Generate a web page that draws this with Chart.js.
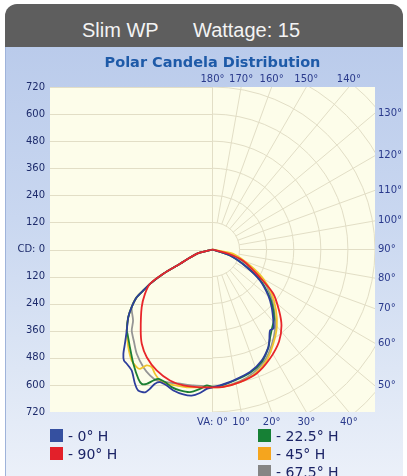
<!DOCTYPE html>
<html><head><meta charset="utf-8">
<script src="https://cdn.jsdelivr.net/npm/chart.js@4.4.0/dist/chart.umd.min.js"></script>
<style>
html,body{margin:0;padding:0;width:407px;height:476px;overflow:hidden;background:#fff;}
#header{position:absolute;left:5px;top:4px;width:398px;height:43px;background:#5e5e5e;border-radius:12px 12px 0 0;}
#panel{position:absolute;left:5px;top:47px;width:398px;height:429px;border-left:1px solid #9fb3da;box-sizing:border-box;
 background:linear-gradient(to bottom,#bacbeb 0%,#c9d7f0 40%,#dde6f5 75%,#ebf0f9 100%);}
.htext{position:absolute;top:20px;font:20px "Liberation Sans",Arial,sans-serif;line-height:20px;color:#f3f3f3;white-space:nowrap;}
#chartwrap{position:absolute;left:0;top:0;width:407px;height:476px;}
.leg{position:absolute;font:14px "DejaVu Sans",sans-serif;line-height:14px;color:#1c2466;white-space:nowrap;}
.sw{position:absolute;width:13px;height:13px;}
</style></head>
<body>
<div id="header"></div>
<div class="htext" style="left:82px">Slim WP</div>
<div class="htext" style="left:193px">Wattage: 15</div>
<div id="panel"></div>
<div id="chartwrap"><canvas id="c" width="407" height="476"></canvas></div>
<div id="legend"></div>
<script>
// ---- data (vertical angle in degrees: 0 = straight down, negative = left half; candela) ----
const seriesLabels = ['- 90° H', '- 0° H', '- 22.5° H', '- 45° H', '- 67.5° H'];
const lineColors   = ['#e8262b', '#2d3e9c', '#1c7f34', '#f0c52c', '#959595'];
const swatchColors = ['#e3202a', '#3550a0', '#168035', '#f5a51e', '#858585'];

const commonAngles = [-76, -74.8, -66.2, -63.7, -61.2, -59.4, -57.8, -54.5, -51.2, -46.6];
const commonCd     = [0, 73, 157, 243, 316, 356, 397, 440, 479, 523];

const h90Angles = [-76, -74.8, -66.2, -63.7, -61.2, -56.7, -50.8, -41.6, -36.9, -31.4, -24.8, -18, -12.1, -5.2, 0, 4.5, 11.7, 19.6, 27.8, 35.9, 42.2, 47.5, 54.1, 59.5, 69.5, 75.5, 77];
const h90Cd     = [0, 73, 157, 243, 316, 358, 405, 479, 522, 559, 590, 610, 616, 613, 611, 611, 600, 583, 546, 503, 455, 400, 332, 244, 146, 71, 0];

const h0Angles = [-42.9, -40.5, -38.6, -36.9, -33.7, -30, -27.8, -25.3, -24.2, -23.2, -21.6, -18.6, -15.5, -11.4, -8.1, -5, -2.4, 0, 3.2, 9, 17, 23.9, 29.7, 32, 35.4, 37.7, 40.6, 45.7, 50.5, 56.9, 62.6, 71.1, 76];
const h0Cd     = [570, 608, 629, 633, 645, 687, 706, 700, 677, 647, 632, 636, 648, 655, 654, 638, 618, 611, 603, 588, 568, 538, 499, 475, 440, 442, 414, 366, 320, 251, 171, 82, 0];

const h22Angles = [-45.3, -40.2, -34.7, -29.8, -27.8, -26.1, -24.3, -22.7, -19.7, -16.5, -13, -9, -5.1, -2.4, 0, 3.1, 9, 17, 23.8, 29.7, 33.2, 37, 41.7, 46.5, 50.8, 57, 62.8, 70.6, 76];
const h22Cd     = [530, 567, 616, 661, 673, 663, 637, 621, 624, 636, 641, 640, 620, 603, 608, 605, 590, 571, 543, 500, 466, 438, 410, 367, 323, 256, 174, 87, 0];

const h45Angles = [-40.8, -36.1, -32.8, -31.3, -29.6, -27.3, -24.8, -21.8, -18.8, -14.7, -10.6, -5.2, 0, 4.5, 11.7, 18.9, 26, 32.8, 39.6, 46.2, 53.2, 60, 66.9, 78.3, 80];
const h45Cd     = [571, 608, 620, 619, 591, 587, 607, 625, 629, 623, 621, 613, 611, 610, 600, 582, 547, 497, 447, 390, 328, 260, 181, 94, 0];

const h67Angles = [-48.2, -44.9, -40.5, -36, -30.4, -26.4, -23.1, -19, -13.6, -8, -2.4, 0, 4.5, 11.7, 18, 25, 31.5, 38, 45, 52, 59, 65.5, 75, 78];
const h67Cd     = [472, 507, 536, 571, 605, 623, 631, 622, 612, 608, 606, 608, 609, 596, 577, 545, 500, 450, 388, 326, 258, 178, 90, 0];

const cdTicks = [-720, -600, -480, -360, -240, -120, 0, 120, 240, 360, 480, 600, 720];
const ringValues = [120, 240, 360, 480, 600, 720, 840, 960];
const spokeAngles = [0, 10, 20, 30, 40, 50, 60, 70, 80, 90, 100, 110, 120, 130, 140, 150, 160, 170, 180];
const topAngles = [180, 170, 160, 150, 140];
const topLabels = ['180°', '170°', '160°', '150°', '140°'];
const rightAngles = [130, 120, 110, 100, 90, 80, 70, 60, 50];
const rightLabels = ['130°', '120°', '110°', '100°', '90°', '80°', '70°', '60°', '50°'];
const bottomAngles = [0, 10, 20, 30, 40];
const bottomLabels = ['VA: 0°', '10°', '20°', '30°', '40°'];

// ---- build ----
const D = Math.PI / 180;
const MAXCD = 720;
function toXY(angles, cds) {
  return angles.map((a, i) => ({x: cds[i] * Math.sin(a * D), y: -cds[i] * Math.cos(a * D)}));
}
const seriesData = [
  toXY(h90Angles, h90Cd),
  toXY(commonAngles.concat(h0Angles), commonCd.concat(h0Cd)),
  toXY(commonAngles.concat(h22Angles), commonCd.concat(h22Cd)),
  toXY(commonAngles.concat(h45Angles), commonCd.concat(h45Cd)),
  toXY(commonAngles.slice(0, 8).concat(h67Angles), commonCd.slice(0, 8).concat(h67Cd))
];

const gridColor = '#e2dec6';
const tickFont = {family: 'DejaVu Sans', size: 10};
const leftTickColor = '#1d2b6b';
const angTickColor = '#2a3a8c';

const polarGrid = {
  id: 'polarGrid',
  beforeDatasetsDraw(chart) {
    const {ctx, chartArea: a, scales: {x, y}} = chart;
    const cx = x.getPixelForValue(0), cy = y.getPixelForValue(0);
    const k = (x.getPixelForValue(MAXCD) - cx) / MAXCD;
    ctx.save();
    ctx.fillStyle = '#fdfdea';
    ctx.fillRect(a.left, a.top, a.width, a.height);
    ctx.beginPath(); ctx.rect(a.left, a.top, a.width, a.height); ctx.clip();
    ctx.strokeStyle = gridColor; ctx.lineWidth = 1;
    ctx.beginPath();
    cdTicks.forEach(v => {
      const py = Math.round(y.getPixelForValue(v)) + 0.5;
      ctx.moveTo(a.left, py); ctx.lineTo(cx, py);
    });
    ctx.moveTo(cx, a.top); ctx.lineTo(cx, a.bottom);
    ctx.stroke();
    ringValues.forEach(r => {
      ctx.beginPath();
      ctx.arc(cx, cy, r * k, -Math.PI / 2, Math.PI / 2);
      ctx.stroke();
    });
    ctx.beginPath();
    spokeAngles.forEach(t => {
      const dx = Math.sin(t * D), dy = Math.cos(t * D);
      const r0 = ringValues[0] * k, r1 = 1200 * k;
      ctx.moveTo(cx + dx * r0, cy + dy * r0);
      ctx.lineTo(cx + dx * r1, cy + dy * r1);
    });
    ctx.stroke();
    ctx.restore();
  }
};

const common = {type: 'linear', min: -MAXCD, max: MAXCD, grid: {display: false, drawTicks: false}, border: {display: false}};

new Chart(document.getElementById('c'), {
  type: 'scatter',
  data: {
    datasets: seriesData.map((d, i) => ({
      label: seriesLabels[i], data: d, showLine: true, borderColor: lineColors[i],
      backgroundColor: lineColors[i], borderWidth: 1.8, pointRadius: 0, tension: 0.25, fill: false
    }))
  },
  options: {
    responsive: false, devicePixelRatio: 1, animation: false,
    layout: {padding: {top: 47, bottom: 44, left: 0, right: 0}},
    plugins: {legend: {display: false}, tooltip: {enabled: false}},
    scales: {
      x: Object.assign({}, common, {
        position: 'bottom',
        afterBuildTicks: s => { s.ticks = bottomAngles.map(t => ({value: MAXCD * Math.tan(t * D)})); },
        afterFit: s => { s.height = 20; },
        ticks: {autoSkip: false, maxRotation: 0, padding: 4, color: angTickColor, font: tickFont,
                callback: (v, i) => bottomLabels[i]}
      }),
      x2: Object.assign({}, common, {
        position: 'top',
        afterBuildTicks: s => { s.ticks = topAngles.map(t => ({value: MAXCD * Math.tan((180 - t) * D)})); },
        afterFit: s => { s.height = 40; },
        ticks: {autoSkip: false, maxRotation: 0, padding: 2, color: angTickColor, font: tickFont,
                callback: (v, i) => topLabels[i]},
        title: {display: true, text: 'Polar Candela Distribution', color: '#1e5aa8',
                font: {family: 'DejaVu Sans', size: 14.5, weight: 'bold'}, padding: {top: 8, bottom: 0}}
      }),
      y: Object.assign({}, common, {
        position: 'left',
        afterBuildTicks: s => { s.ticks = cdTicks.map(v => ({value: v})); },
        afterFit: s => { s.width = 50; },
        ticks: {autoSkip: false, padding: 5, color: leftTickColor, font: tickFont,
                callback: (v, i) => cdTicks[i] === 0 ? 'CD: 0' : String(Math.abs(cdTicks[i]))}
      }),
      y2: Object.assign({}, common, {
        position: 'right',
        afterBuildTicks: s => { s.ticks = rightAngles.map(t => ({value: -MAXCD * Math.cos(t * D) / Math.sin(t * D)})); },
        afterFit: s => { s.width = 32; },
        ticks: {autoSkip: false, padding: 3, color: angTickColor, font: tickFont,
                callback: (v, i) => rightLabels[i]}
      })
    }
  },
  plugins: [polarGrid]
});

// ---- HTML legend built from the series ----
const legendOrder = [1, 0, 2, 3, 4];
const legendPos = [[50, 429], [50, 447], [258, 429], [258, 447], [258, 465]];
const lg = document.getElementById('legend');
legendOrder.forEach((si, j) => {
  const [lx, ly] = legendPos[j];
  const sw = document.createElement('div');
  sw.className = 'sw'; sw.style.left = lx + 'px'; sw.style.top = ly + 'px'; sw.style.background = swatchColors[si];
  lg.appendChild(sw);
  const t = document.createElement('div');
  t.className = 'leg'; t.style.left = (lx + 18) + 'px'; t.style.top = (ly) + 'px';
  t.textContent = seriesLabels[si];
  lg.appendChild(t);
});
</script>
</body></html>
